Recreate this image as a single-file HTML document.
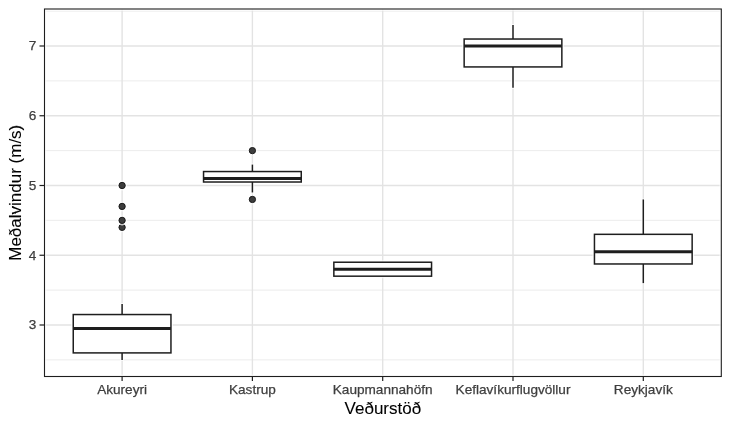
<!DOCTYPE html>
<html lang="is"><head><meta charset="utf-8"><title>Meðalvindur</title>
<style>html,body{margin:0;padding:0;background:#fff}svg{display:block}text{font-family:"Liberation Sans",sans-serif}</style></head><body>
<svg width="730" height="426" viewBox="0 0 730 426">
<rect x="0" y="0" width="730" height="426" fill="#fff"/>
<g stroke="#e8e8e8" stroke-width="0.85" fill="none">
<line x1="44.5" x2="721.3" y1="359.88" y2="359.88"/>
<line x1="44.5" x2="721.3" y1="290.12" y2="290.12"/>
<line x1="44.5" x2="721.3" y1="220.38" y2="220.38"/>
<line x1="44.5" x2="721.3" y1="150.62" y2="150.62"/>
<line x1="44.5" x2="721.3" y1="80.88" y2="80.88"/>
<line x1="44.5" x2="721.3" y1="11.12" y2="11.12"/>
</g>
<g stroke="#e3e3e3" stroke-width="1.4" fill="none">
<line x1="44.5" x2="721.3" y1="325.00" y2="325.00"/>
<line x1="44.5" x2="721.3" y1="255.25" y2="255.25"/>
<line x1="44.5" x2="721.3" y1="185.50" y2="185.50"/>
<line x1="44.5" x2="721.3" y1="115.75" y2="115.75"/>
<line x1="44.5" x2="721.3" y1="46.00" y2="46.00"/>
<line x1="122.10" x2="122.10" y1="9.0" y2="376.5"/>
<line x1="252.40" x2="252.40" y1="9.0" y2="376.5"/>
<line x1="382.70" x2="382.70" y1="9.0" y2="376.5"/>
<line x1="513.00" x2="513.00" y1="9.0" y2="376.5"/>
<line x1="643.30" x2="643.30" y1="9.0" y2="376.5"/>
</g>
<g stroke="#fff" stroke-opacity="0.75" stroke-width="4.1" fill="none">
<line x1="122.10" x2="122.10" y1="303.07" y2="314.54"/>
<line x1="122.10" x2="122.10" y1="352.90" y2="360.88"/>
<rect x="73.25" y="314.54" width="97.70" height="38.36"/>
</g>
<g stroke="#1e1e1e" stroke-width="1.5" fill="#fff">
<line x1="122.10" x2="122.10" y1="304.07" y2="314.54"/>
<line x1="122.10" x2="122.10" y1="352.90" y2="359.88"/>
<rect x="73.25" y="314.54" width="97.70" height="38.36"/>
<line x1="73.25" x2="170.95" y1="328.49" y2="328.49" stroke-width="2.95"/>
</g>
<circle cx="122.10" cy="227.35" r="5" fill="#fff" fill-opacity="0.75"/>
<circle cx="122.10" cy="227.35" r="3.15" fill="#3d3d3d" stroke="#181818" stroke-width="1"/>
<circle cx="122.10" cy="220.38" r="5" fill="#fff" fill-opacity="0.75"/>
<circle cx="122.10" cy="220.38" r="3.15" fill="#3d3d3d" stroke="#181818" stroke-width="1"/>
<circle cx="122.10" cy="206.42" r="5" fill="#fff" fill-opacity="0.75"/>
<circle cx="122.10" cy="206.42" r="3.15" fill="#3d3d3d" stroke="#181818" stroke-width="1"/>
<circle cx="122.10" cy="185.50" r="5" fill="#fff" fill-opacity="0.75"/>
<circle cx="122.10" cy="185.50" r="3.15" fill="#3d3d3d" stroke="#181818" stroke-width="1"/>
<g stroke="#fff" stroke-opacity="0.75" stroke-width="4.1" fill="none">
<line x1="252.40" x2="252.40" y1="163.58" y2="171.55"/>
<line x1="252.40" x2="252.40" y1="182.01" y2="193.47"/>
<rect x="203.55" y="171.55" width="97.70" height="10.46"/>
</g>
<g stroke="#1e1e1e" stroke-width="1.5" fill="#fff">
<line x1="252.40" x2="252.40" y1="164.58" y2="171.55"/>
<line x1="252.40" x2="252.40" y1="182.01" y2="192.47"/>
<rect x="203.55" y="171.55" width="97.70" height="10.46"/>
<line x1="203.55" x2="301.25" y1="178.53" y2="178.53" stroke-width="2.95"/>
</g>
<circle cx="252.40" cy="199.45" r="5" fill="#fff" fill-opacity="0.75"/>
<circle cx="252.40" cy="199.45" r="3.15" fill="#3d3d3d" stroke="#181818" stroke-width="1"/>
<circle cx="252.40" cy="150.62" r="5" fill="#fff" fill-opacity="0.75"/>
<circle cx="252.40" cy="150.62" r="3.15" fill="#3d3d3d" stroke="#181818" stroke-width="1"/>
<g stroke="#fff" stroke-opacity="0.75" stroke-width="4.1" fill="none">
<rect x="333.85" y="262.23" width="97.70" height="13.95"/>
</g>
<g stroke="#1e1e1e" stroke-width="1.5" fill="#fff">
<rect x="333.85" y="262.23" width="97.70" height="13.95"/>
<line x1="333.85" x2="431.55" y1="269.20" y2="269.20" stroke-width="2.95"/>
</g>
<g stroke="#fff" stroke-opacity="0.75" stroke-width="4.1" fill="none">
<line x1="513.00" x2="513.00" y1="24.07" y2="39.03"/>
<line x1="513.00" x2="513.00" y1="66.93" y2="88.85"/>
<rect x="464.15" y="39.03" width="97.70" height="27.90"/>
</g>
<g stroke="#1e1e1e" stroke-width="1.5" fill="#fff">
<line x1="513.00" x2="513.00" y1="25.07" y2="39.03"/>
<line x1="513.00" x2="513.00" y1="66.93" y2="87.85"/>
<rect x="464.15" y="39.03" width="97.70" height="27.90"/>
<line x1="464.15" x2="561.85" y1="46.00" y2="46.00" stroke-width="2.95"/>
</g>
<g stroke="#fff" stroke-opacity="0.75" stroke-width="4.1" fill="none">
<line x1="643.30" x2="643.30" y1="198.45" y2="234.33"/>
<line x1="643.30" x2="643.30" y1="263.97" y2="284.15"/>
<rect x="594.45" y="234.33" width="97.70" height="29.64"/>
</g>
<g stroke="#1e1e1e" stroke-width="1.5" fill="#fff">
<line x1="643.30" x2="643.30" y1="199.45" y2="234.33"/>
<line x1="643.30" x2="643.30" y1="263.97" y2="283.15"/>
<rect x="594.45" y="234.33" width="97.70" height="29.64"/>
<line x1="594.45" x2="692.15" y1="251.76" y2="251.76" stroke-width="2.95"/>
</g>
<rect x="44.5" y="9.0" width="676.8" height="367.5" fill="none" stroke="#fff" stroke-opacity="0.7" stroke-width="3.7"/>
<rect x="44.5" y="9.0" width="676.8" height="367.5" fill="none" stroke="#1e1e1e" stroke-width="1.1"/>
<g stroke="#1e1e1e" stroke-width="1.2">
<line x1="39.5" x2="44.5" y1="325.00" y2="325.00"/>
<line x1="39.5" x2="44.5" y1="255.25" y2="255.25"/>
<line x1="39.5" x2="44.5" y1="185.50" y2="185.50"/>
<line x1="39.5" x2="44.5" y1="115.75" y2="115.75"/>
<line x1="39.5" x2="44.5" y1="46.00" y2="46.00"/>
<line x1="122.10" x2="122.10" y1="376.5" y2="381.1"/>
<line x1="252.40" x2="252.40" y1="376.5" y2="381.1"/>
<line x1="382.70" x2="382.70" y1="376.5" y2="381.1"/>
<line x1="513.00" x2="513.00" y1="376.5" y2="381.1"/>
<line x1="643.30" x2="643.30" y1="376.5" y2="381.1"/>
</g>
<g fill="#3e3e3e" stroke="#3e3e3e" stroke-width="0.25" font-size="13.6px">
<text x="36.2" y="329.45" text-anchor="end">3</text>
<text x="36.2" y="259.70" text-anchor="end">4</text>
<text x="36.2" y="189.95" text-anchor="end">5</text>
<text x="36.2" y="120.20" text-anchor="end">6</text>
<text x="36.2" y="50.45" text-anchor="end">7</text>
<text x="122.10" y="394" text-anchor="middle">Akureyri</text>
<text x="252.40" y="394" text-anchor="middle">Kastrup</text>
<text x="382.70" y="394" text-anchor="middle">Kaupmannahöfn</text>
<text x="513.00" y="394" text-anchor="middle">Keflavíkurflugvöllur</text>
<text x="643.30" y="394" text-anchor="middle">Reykjavík</text>
</g>
<text x="382.90" y="413.85" text-anchor="middle" font-size="17px" fill="#000" stroke="#000" stroke-width="0.08">Veðurstöð</text>
<text transform="translate(21,192.75) rotate(-90)" text-anchor="middle" font-size="17px" fill="#000" stroke="#000" stroke-width="0.08">Meðalvindur (m/s)</text>
</svg></body></html>
